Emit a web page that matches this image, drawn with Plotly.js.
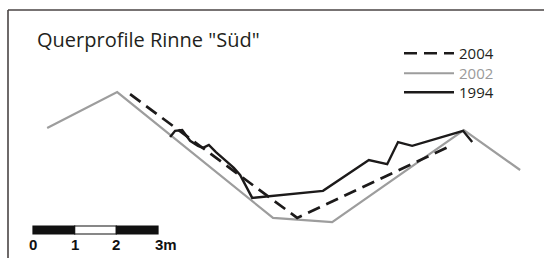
<!DOCTYPE html>
<html>
<head>
<meta charset="utf-8">
<script src="https://cdn.plot.ly/plotly-3.0.1.min.js"></script>
<style>html,body{margin:0;padding:0;background:#fff;}#chart{width:544px;height:258px;}</style>
</head>
<body>
<div id="chart"></div>
<script>
// Profile distance (m) and relative elevation (m)
const x2002 = [0.34, 2.02, 5.76, 7.18, 10.34, 11.69];
const y2002 = [2.21, 3.07, 0.05, -0.05, 2.16, 1.20];

const x2004 = [2.33, 6.34, 10.06];
const y2004 = [3.02, 0.05, 1.80];

const x1994 = [3.29, 3.41, 3.58, 3.77, 3.96, 4.08, 4.22, 4.39, 4.63, 4.82, 4.97, 5.26, 6.96, 8.06, 8.50, 8.76, 9.10, 10.32, 10.54];
const y1994 = [1.99, 2.14, 2.16, 1.90, 1.78, 1.73, 1.80, 1.63, 1.42, 1.25, 1.08, 0.53, 0.70, 1.44, 1.34, 1.87, 1.78, 2.14, 1.87];

const scaleTicks = [0, 1, 2, 3];
const scaleLabels = ['0', '1', '2', '3m'];

const traces = [
  {x: x2002, y: y2002, mode: 'lines', name: '<span style="color:#9a9a9a">2002</span>', legend: 'legend2',
   line: {color: '#9d9d9d', width: 2.2}},
  {x: x1994, y: y1994, mode: 'lines', name: '1994', legend: 'legend3',
   line: {color: '#1c1a1a', width: 2.4}},
  {x: x2004, y: y2004, mode: 'lines', name: '2004', legend: 'legend',
   line: {color: '#1c1a1a', width: 2.7, dash: '13px,7px'}}
];

const shapes = [
  {type: 'line', xref: 'paper', yref: 'paper', x0: 8/544, x1: 1, y0: 1 - 10/258, y1: 1 - 10/258,
   line: {color: '#4a4444', width: 1.6}},
  {type: 'line', xref: 'paper', yref: 'paper', x0: 8/544, x1: 8/544, y0: 0, y1: 1 - 10/258,
   line: {color: '#4a4444', width: 1.6}}
];
// scale bar segments from tick list
for (let i = 0; i < scaleTicks.length - 1; i++) {
  shapes.push({type: 'rect', xref: 'x', yref: 'y', x0: scaleTicks[i], x1: scaleTicks[i+1],
    y0: -0.336, y1: -0.144, fillcolor: i % 2 === 0 ? '#111' : '#fff',
    line: {color: '#111', width: 1.2}});
}
const annotations = scaleTicks.map((t, i) => ({
  x: t, y: -0.58, xref: 'x', yref: 'y', text: scaleLabels[i], showarrow: false,
  xanchor: i === scaleTicks.length - 1 ? 'left' : 'center', xshift: i === scaleTicks.length - 1 ? -5 : 0,
  yanchor: 'middle',
  font: {family: 'Liberation Sans, Arial, sans-serif', size: 15, color: '#111', weight: 'bold'}
}));

function leg(topPx) {
  return {x: 399/544, y: 1 - topPx/258, xanchor: 'left', yanchor: 'top', bgcolor: 'rgba(0,0,0,0)',
          font: {family: 'Open Sans, Noto Sans, sans-serif', size: 15, color: '#231f20'},
          itemwidth: 50};
}

const layout = {
  width: 544, height: 258,
  margin: {l: 0, r: 0, t: 0, b: 0},
  paper_bgcolor: '#fff', plot_bgcolor: '#fff',
  title: {text: 'Querprofile Rinne "Süd"', x: 37/544, xanchor: 'left', xref: 'paper',
          y: 1 - 40/258, yanchor: 'middle',
          font: {family: 'Open Sans, Noto Sans, sans-serif', size: 20, color: '#231f20'}},
  xaxis: {range: [-0.792, 12.263], visible: false, fixedrange: true},
  yaxis: {range: [-0.912, 5.280], visible: false, fixedrange: true},
  showlegend: true,
  legend: leg(37),
  legend2: leg(57),
  legend3: leg(76),
  shapes: shapes,
  annotations: annotations
};

Plotly.newPlot('chart', traces, layout, {displayModeBar: false, staticPlot: true});
</script>
</body>
</html>
